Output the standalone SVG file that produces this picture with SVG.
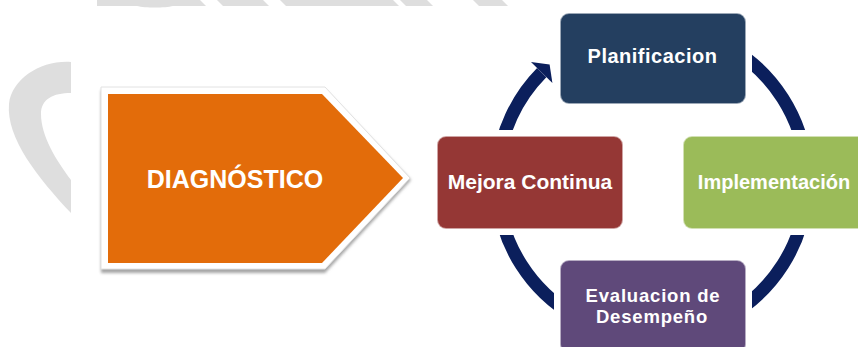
<svg xmlns="http://www.w3.org/2000/svg" width="858" height="347" viewBox="0 0 858 347">
  <style>
    .wm { fill: #dedede; }
    .box { stroke: #ffffff; stroke-opacity: 0.55; stroke-width: 2; }
    .lbl { font-family: "Liberation Sans", Arial, sans-serif; font-weight: bold; fill: #ffffff; text-anchor: middle; }
    .arc { fill: none; stroke: #0b1f5c; stroke-width: 13; stroke-linecap: butt; }
  </style>
  <defs>
    <filter id="shadow" x="-10%" y="-10%" width="120%" height="130%">
      <feGaussianBlur stdDeviation="1.5"/>
    </filter>
    <mask id="boxcut" maskUnits="userSpaceOnUse" x="0" y="0" width="858" height="347">
      <rect x="0" y="0" width="858" height="347" fill="#ffffff"/>
      <rect x="554" y="7" width="198" height="103" fill="#000000"/>
      <rect x="431" y="130" width="198" height="105" fill="#000000"/>
      <rect x="677" y="130" width="198" height="105" fill="#000000"/>
      <rect x="554" y="254" width="198" height="99" fill="#000000"/>
    </mask>
  </defs>

  <rect x="0" y="0" width="858" height="347" fill="#ffffff"/>

  <!-- background watermark -->
  <g id="watermark">
    <path class="wm" d="M71,62 C42,60 12,78 9,104 C6,138 38,178 71,213 L71,180 C56,160 41,136 41,114 C41,99 53,93 71,93 Z"/>
    <polygon class="wm" points="97,0 200,0 206,6 97,6"/>
    <path class="wm" d="M137,6 C145,8 165,8 173,6 Z"/>
    <polygon class="wm" points="217,0 263,0 269,6 223,6"/>
    <polygon class="wm" points="280,0 393,0 399,6 286,6"/>
    <polygon class="wm" points="400,0 427,0 433,6 406,6"/>
    <polygon class="wm" points="473,0 502,0 508,6 479,6"/>
  </g>

  <!-- DIAGNOSTICO pentagon -->
  <g id="diagnostico">
    <polygon points="101,90 325,90 411,180 325,273 101,273" fill="#a6a6a6" filter="url(#shadow)"/>
    <polygon points="101,87 325,87 410,178 325,269 101,269" fill="#ffffff" stroke="#e2e2e2" stroke-width="1"/>
    <polygon points="108,94 322,94 403,178 322,263 108,263" fill="#e36c0a"/>
    <text class="lbl" x="235" y="188" font-size="25">DIAGNÓSTICO</text>
  </g>

  <!-- connectors (cycle arcs) -->
  <g id="connectors">
    <g mask="url(#boxcut)">
      <path class="arc" d="M729.5,47.3 A155,155 0 0 1 806.4,168"/>
      <path class="arc" d="M806.4,195 A155,155 0 0 1 729.5,315.7"/>
      <path class="arc" d="M574.5,315.7 A155,155 0 0 1 497.6,195"/>
      <path class="arc" d="M497.6,168 A155,155 0 0 1 541.7,72.6"/>
    </g>
    <polygon points="531,62.1 549.6,64.6 552.4,83.1" fill="#0b1f5c"/>
  </g>

  <g id="planificacion">
    <rect class="box" x="560" y="13" width="186" height="91" rx="9" fill="#243f60"/>
    <text class="lbl" x="652.5" y="63" font-size="20" letter-spacing="0.5">Planificacion</text>
  </g>

  <g id="mejora">
    <rect class="box" x="437" y="136" width="186" height="93" rx="9" fill="#953735"/>
    <text class="lbl" x="530" y="189" font-size="21">Mejora Continua</text>
  </g>

  <g id="implementacion">
    <rect class="box" x="683" y="136" width="186" height="93" rx="9" fill="#9bbb59"/>
    <text class="lbl" x="774" y="189" font-size="20">Implementación</text>
  </g>

  <g id="evaluacion">
    <rect class="box" x="560" y="260" width="186" height="93" rx="9" fill="#5f497a"/>
    <text class="lbl" x="653" y="302" font-size="18.5" letter-spacing="0.8">Evaluacion de</text>
    <text class="lbl" x="652" y="323" font-size="18.5" letter-spacing="0.8">Desempeño</text>
  </g>
</svg>
